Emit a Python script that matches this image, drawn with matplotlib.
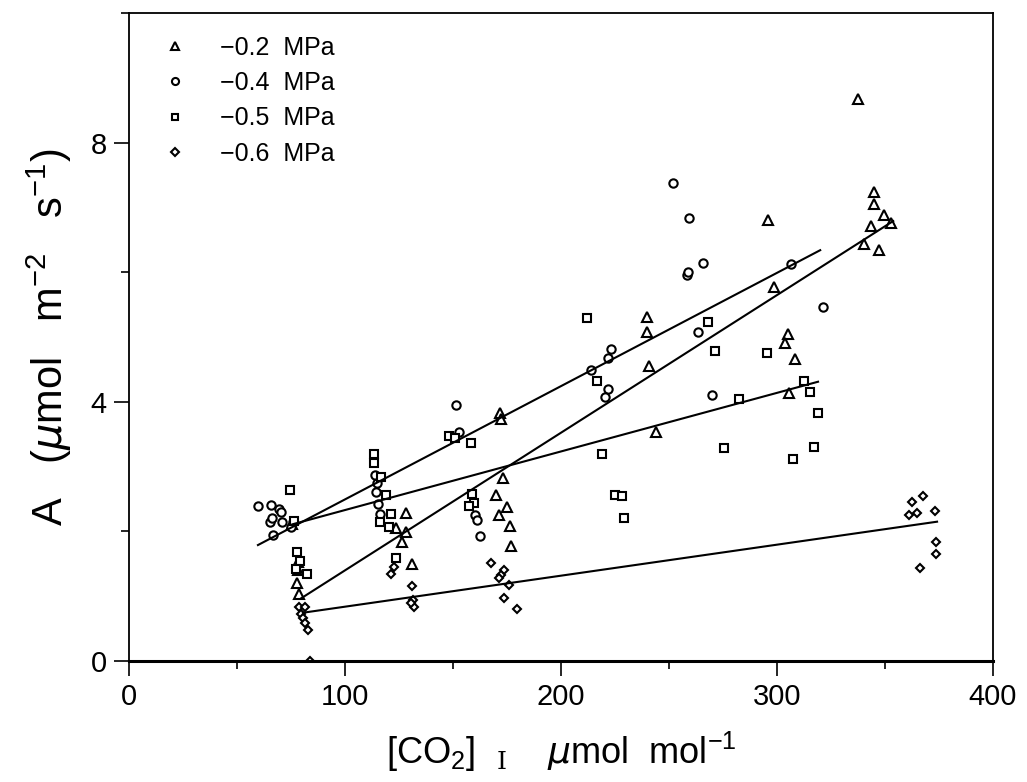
import numpy as np
import matplotlib
matplotlib.use("Agg")
import matplotlib.pyplot as plt
from matplotlib.ticker import MultipleLocator

plt.rcParams['font.family'] = ['Liberation Sans', 'DejaVu Sans']
plt.rcParams['mathtext.fontset'] = 'custom'
plt.rcParams['mathtext.rm'] = 'DejaVu Serif'
plt.rcParams['mathtext.sf'] = 'Liberation Sans'
plt.rcParams['mathtext.it'] = 'DejaVu Sans:italic'

# -0.2 MPa (triangles)
tri_x = [337.6, 345, 345, 349.5, 343.3, 352.7, 340.4, 347.3, 296, 298.7, 305.3, 303.8,
         308.5, 305.6, 244.2, 240, 239.9, 240.6, 171.8, 172.3, 173, 169.8, 174.9, 171.4,
         176.3, 176.9, 128.2, 123.6, 128.2, 126.4, 130.9, 78.4, 78.4, 77.8, 78.7, 75.5]
tri_y = [8.68, 7.24, 7.06, 6.88, 6.71, 6.76, 6.44, 6.34, 6.81, 5.77, 5.05, 4.90,
         4.66, 4.14, 3.54, 5.31, 5.08, 4.55, 3.83, 3.74, 2.82, 2.56, 2.38, 2.26,
         2.09, 1.77, 2.28, 2.06, 1.99, 1.84, 1.49, 1.53, 1.40, 1.20, 1.03, 2.12]

# -0.4 MPa (circles)
cir_x = [59.7, 65.9, 69.4, 70.5, 65.1, 66, 70.8, 75.9, 66.7, 75.1, 114.1, 115, 114.4,
         115.2, 116, 151.6, 152.9, 160.3, 161, 162.4, 214, 221.7, 223, 221.7, 220.6,
         252, 259.4, 258.5, 258.8, 265.6, 263.4, 269.7, 306.4, 321.5]
cir_y = [2.39, 2.41, 2.34, 2.30, 2.15, 2.20, 2.15, 2.15, 1.94, 2.07, 2.87, 2.75, 2.61,
         2.42, 2.27, 3.95, 3.53, 2.25, 2.17, 1.93, 4.49, 4.68, 4.81, 4.19, 4.08,
         7.38, 6.84, 5.95, 6.00, 6.14, 5.07, 4.10, 6.12, 5.47]

# -0.5 MPa (squares)
sq_x = [74.4, 77.8, 79, 82.5, 77.5, 76.5, 113.3, 113.3, 116.7, 119, 116, 121.3, 120.6,
        123.6, 148.3, 151, 158.3, 159, 159.5, 157.2, 212, 216.8, 219, 225.2, 228.3,
        229, 268, 271.3, 275.4, 282.2, 295.6, 307.3, 312.7, 315.3, 316.9, 319.1]
sq_y = [2.64, 1.69, 1.55, 1.35, 1.42, 2.16, 3.20, 3.05, 2.84, 2.56, 2.15, 2.27, 2.07,
        1.59, 3.48, 3.44, 3.36, 2.57, 2.44, 2.39, 5.29, 4.32, 3.20, 2.56, 2.54,
        2.20, 5.23, 4.78, 3.28, 4.05, 4.76, 3.11, 4.32, 4.15, 3.31, 3.83]

# -0.6 MPa (diamonds)
dia_x = [78.7, 81.3, 79.8, 80.5, 81.3, 82.8, 84, 121.3, 122.9, 130.9, 131.3, 132.1,
         130.6, 167.5, 173.7, 172.1, 171.4, 175.7, 173.7, 179.8, 362.3, 367.8, 361.2,
         365, 373.2, 373.5, 373.8, 366.4]
dia_y = [0.84, 0.84, 0.73, 0.66, 0.58, 0.48, 0.0, 1.35, 1.45, 1.16, 0.94, 0.84,
         0.90, 1.51, 1.40, 1.33, 1.28, 1.17, 0.97, 0.80, 2.46, 2.54, 2.25,
         2.28, 2.32, 1.83, 1.65, 1.44]

# regression lines: (x start, x end, slope, intercept)
fit_tri = (79.8, 353.8, 0.02124, -0.725)
fit_cir = (59.7, 320.0, 0.01748, 0.746)
fit_sq = (75.7, 319.0, 0.009042, 1.4255)
fit_dia = (80.5, 374.1, 0.004785, 0.36)

labels = ['\u22120.2  MPa', '\u22120.4  MPa', '\u22120.5  MPa', '\u22120.6  MPa']

fig = plt.figure(figsize=(10.27, 7.82), dpi=100)
ax = fig.add_axes([0.1256, 0.1547, 0.8413, 0.8287])

series = [(tri_x, tri_y, '^', 6.5), (cir_x, cir_y, 'o', 6), (sq_x, sq_y, 's', 5.5), (dia_x, dia_y, 'D', 4.5)]
for (xs, ys, m, ms), lab in zip(series, labels):
    ax.plot(xs, ys, linestyle='none', marker=m, ms=ms, mfc='white', mec='black', mew=1.5, label=lab)

for x0, x1, b, a in [fit_tri, fit_cir, fit_sq, fit_dia]:
    xx = np.array([x0, x1])
    ax.plot(xx, a + b * xx, color='black', lw=1.5)

ax.set_xlim(0, 400)
ax.set_ylim(0, 10)
ax.xaxis.set_major_locator(MultipleLocator(100))
ax.xaxis.set_minor_locator(MultipleLocator(50))
ax.yaxis.set_major_locator(MultipleLocator(4))
ax.yaxis.set_minor_locator(MultipleLocator(2))
ax.tick_params(which='major', direction='out', length=11, width=1.2, labelsize=21, pad=5)
ax.tick_params(which='minor', direction='out', length=6, width=1.2)
for s in ax.spines.values():
    s.set_linewidth(1.3)
ax.spines['bottom'].set_linewidth(2.2)

ax.set_xlabel(r'[CO$_\mathsf{2}$]  $_{\mathrm{I}}$    $\mu$mol  mol$^\mathsf{-1}$', fontsize=26, labelpad=13)
ax.set_ylabel(r'A   ($\mu$mol   m$^\mathsf{-2}$   s$^\mathsf{-1}$)', fontsize=30, labelpad=12)

ax.legend(loc='upper left', bbox_to_anchor=(0.024, 0.98), borderaxespad=0, frameon=False,
          fontsize=18, handlelength=1.2, handletextpad=1.2, labelspacing=0.45, markerscale=0.85)

fig.savefig('out.png', dpi=100)
